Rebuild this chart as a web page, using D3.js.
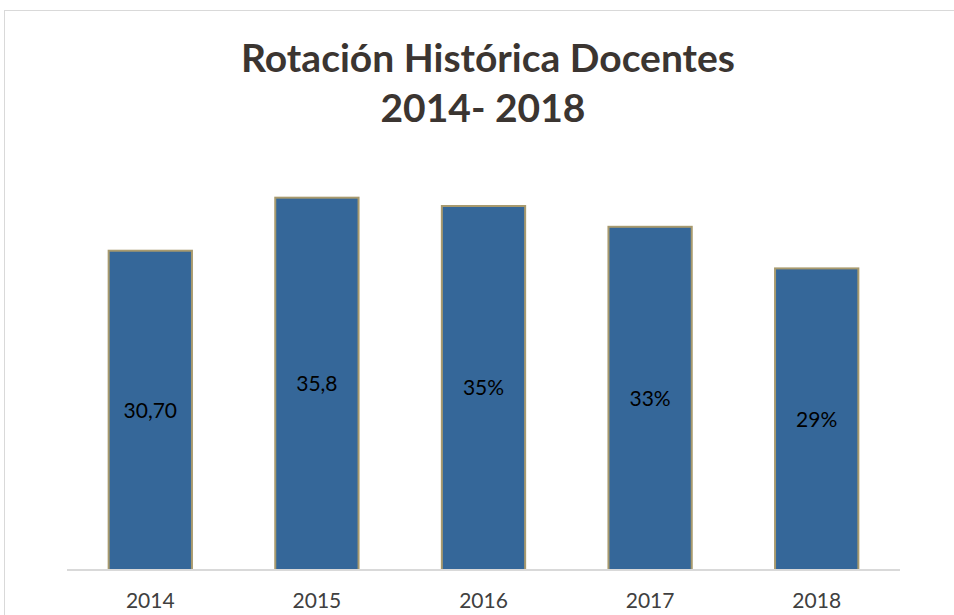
<!DOCTYPE html>
<html>
<head>
<meta charset="utf-8">
<script src="https://cdn.jsdelivr.net/npm/d3@7"></script>
<style>
  body { margin: 0; background: #fff; }
  svg { display: block; }
</style>
</head>
<body>
<div id="chart"></div>
<script>
// data
const years = ["2014", "2015", "2016", "2017", "2018"];
const rotation = [30.7, 35.8, 35, 33, 29];
const labels = ["30,70", "35,8", "35%", "33%", "29%"];

const width = 954, height = 615;
const margin = {top: 154, right: 54, bottom: 45, left: 67};

let svg = d3.select("#chart")
    .append("svg")
    .attr("width", width)
    .attr("height", height);

// chart area border
svg.append("rect")
    .attr("x", 4.5).attr("y", 10.5)
    .attr("width", width + 10).attr("height", height)
    .attr("fill", "none")
    .attr("stroke", "#d9d9d9")
    .attr("stroke-width", 1);

let x = d3.scaleBand()
    .domain(years)
    .range([margin.left, width - margin.right])
    .paddingInner(0.5)
    .paddingOuter(0.25);

let y = d3.scaleLinear()
    .domain([0, 40])
    .range([height - margin.bottom, margin.top]);

// title
let title = svg.append("text")
    .attr("text-anchor", "middle")
    .style("font-family", "Lato, 'Open Sans', sans-serif")
    .style("font-weight", "bold")
    .style("font-size", "39px")
    .attr("fill", "#3b3531");
title.append("tspan").attr("x", 488).attr("y", 72).text("Rotación Histórica Docentes");
title.append("tspan").attr("x", 483).attr("y", 122).text("2014- 2018");

// bars
svg.append("g")
    .selectAll("rect")
    .data(rotation)
    .enter()
    .append("rect")
    .attr("x", (d, i) => x(years[i]))
    .attr("y", d => y(d))
    .attr("width", x.bandwidth())
    .attr("height", d => y(0) - y(d))
    .attr("fill", "#356799")
    .attr("stroke", "#a89a6e")
    .attr("stroke-width", 2);

// value labels centred in bars
svg.append("g")
    .selectAll("text")
    .data(rotation)
    .enter()
    .append("text")
    .attr("x", (d, i) => x(years[i]) + x.bandwidth() / 2)
    .attr("y", d => (y(d) + y(0)) / 2)
    .attr("dy", "0.35em")
    .attr("text-anchor", "middle")
    .style("font-family", "Lato, 'Open Sans', sans-serif")
    .style("font-size", "21px")
    .attr("fill", "#000")
    .text((d, i) => labels[i]);

// x axis
let xAxis = svg.append("g")
    .attr("transform", `translate(0, ${y(0)})`)
    .call(d3.axisBottom(x).tickSize(0).tickPadding(23));
xAxis.select(".domain")
    .attr("stroke", "#d9d9d9")
    .attr("stroke-width", 2)
    .attr("d", `M${margin.left},0H${width - margin.right}`);
xAxis.selectAll("text")
    .style("font-family", "Lato, 'Open Sans', sans-serif")
    .style("font-size", "21px")
    .attr("fill", "#404040");
</script>
</body>
</html>
